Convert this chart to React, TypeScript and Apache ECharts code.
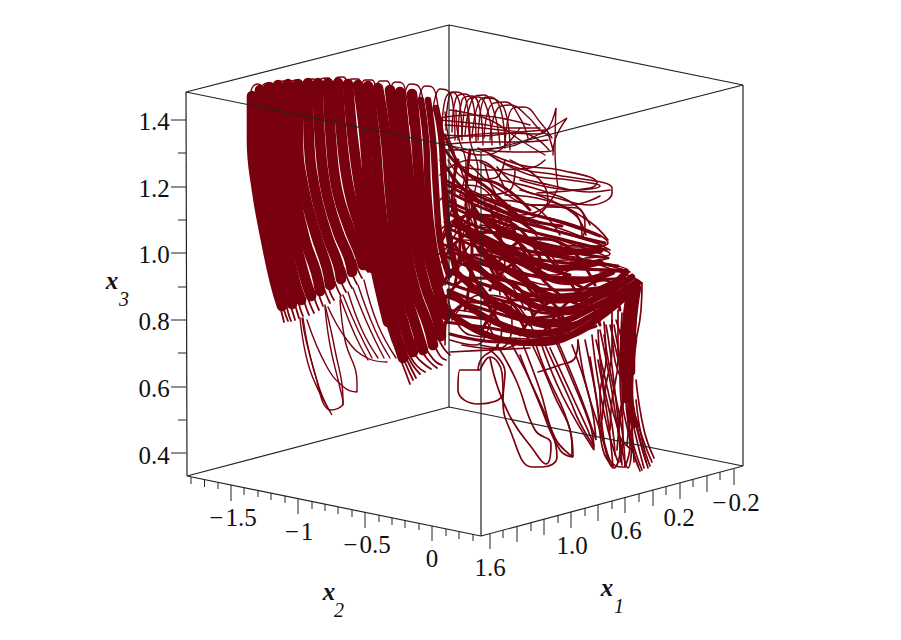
import React, { useEffect, useRef } from "react";
import * as echarts from "echarts";

const INK = "#78000f";
const BOX = "#222222";

// Box edges of the 3D frame
const boxEdges = [
  [[186, 92], [449, 25], [743, 85], [481, 152], [186, 92]],
  [[187, 476], [449, 407], [743, 466], [481, 536], [187, 476]],
  [[186, 92], [187, 476]],
  [[449, 25], [449, 407]],
  [[743, 85], [743, 466]],
  [[481, 152], [481, 536]],
];

// Ticks: [x0,y0,x1,y1]
const x3Ticks = [
  [171, 120, 186, 120], [178, 153, 186, 153], [171, 187, 186, 187], [178, 220, 186, 220], [171, 253, 186, 253],
  [178, 287, 186, 287], [171, 320, 186, 320], [178, 353, 186, 353], [171, 387, 186, 387], [178, 420, 186, 420], [171, 453, 186, 453],
];
const x2Ticks = [
  [191, 477, 191, 484], [204.5, 480, 204.5, 487], [218, 482, 218, 489], [231, 485, 231, 501], [244, 488, 244, 495],
  [258, 490, 258, 497], [271, 493, 271, 500], [285, 496, 285, 503], [298, 499, 298, 514], [312, 502, 312, 509],
  [325, 504, 325, 511], [338, 507, 338, 514], [352, 510, 352, 517], [365, 512, 365, 528], [379, 515, 379, 522],
  [392, 518, 392, 525], [405, 521, 405, 528], [419, 523, 419, 530], [432, 526, 432, 541], [446, 529, 446, 536],
  [459, 532, 459, 539], [473, 534, 473, 541],
];
const x1Ticks = [
  [490, 534, 490, 549], [503, 530, 503, 538], [517, 526, 517, 542], [531, 523, 531, 531], [544, 519, 544, 535],
  [558, 515, 558, 523], [571, 512, 571, 528], [585, 508, 585, 516], [598, 505, 598, 521], [612, 501, 612, 509],
  [625, 497, 625, 513], [639, 494, 639, 502], [653, 490, 653, 506], [666, 487, 666, 495], [680, 483, 680, 499],
  [693, 479, 693, 487], [707, 476, 707, 492], [720, 472, 720, 480], [734, 469, 734, 485],
];

// Tick labels: [text, x, y]
const x3Labels = [["1.4", 154, 121], ["1.2", 154, 188], ["1.0", 154, 254], ["0.8", 154, 321], ["0.6", 154, 388], ["0.4", 154, 455]];
const x2Labels = [["\u2212\u200a1.5", 233, 517], ["\u2212\u200a1", 299, 531], ["\u2212\u200a0.5", 367, 544], ["0", 432, 558]];
const x1Labels = [["1.6", 490, 567], ["1.0", 572, 545], ["0.6", 626, 530], ["0.2", 679, 517], ["\u2212\u200a0.2", 736, 502]];
const axisNames = [["x", "2", 329, 591, 339, 610], ["x", "1", 607, 587, 619, 606], ["x", "3", 112, 280, 124, 299]];

// Dense left fan, drawn as broad bands
const fanBands = [
  [252, 96, 252, 140, 257, 190, 266, 240, 275, 282, 282, 306],
  [260, 90, 260, 140, 266, 190, 275, 240, 285, 282, 292, 304],
  [269, 87, 269, 140, 275, 190, 285, 240, 295, 282, 301, 300],
  [278, 85, 278, 140, 284, 190, 295, 240, 305, 278, 311, 296],
  [288, 84, 288, 140, 294, 190, 305, 240, 316, 272, 320, 291],
  [298, 84, 298, 140, 304, 190, 316, 235, 327, 268, 330, 285],
  [308, 83, 309, 140, 315, 190, 327, 235, 338, 264, 341, 279],
  [318, 83, 320, 140, 326, 190, 338, 232, 349, 258, 352, 272],
  [328, 83, 331, 140, 337, 190, 349, 228, 360, 255, 363, 265],
  [338, 83, 342, 140, 349, 190, 360, 228, 369, 255, 372, 268],
  [348, 84, 353, 140, 360, 190, 369, 235, 378, 280, 388, 322],
  [358, 85, 364, 130, 369, 190, 375, 240, 384, 285, 397, 338, 403, 358],
  [368, 86, 375, 140, 379, 190, 385, 240, 395, 290, 407, 335, 413, 352],
  [378, 88, 386, 140, 390, 190, 395, 240, 405, 290, 417, 330, 423, 350],
  [390, 90, 396, 140, 400, 190, 405, 240, 415, 290, 428, 325, 433, 345],
  [400, 92, 405, 140, 410, 190, 415, 240, 425, 285, 436, 315, 441, 336],
  [412, 94, 416, 135, 420, 190, 425, 240, 435, 280, 446, 315],
];

// Tangled centre and right wing bands
const massBands = [
  [421, 100, 426, 140, 428, 190, 433, 240, 442, 282],
  [428, 100, 433, 140, 436, 190, 440, 240, 449, 275],
  [436, 108, 441, 135, 444, 180, 448, 230, 456, 270],
  [445, 310, 490, 336, 540, 343, 590, 324, 637, 286],
  [450, 292, 495, 322, 545, 333, 595, 314, 638, 283],
  [456, 272, 500, 306, 550, 322, 600, 304, 636, 282],
  [466, 256, 510, 292, 560, 310, 605, 294, 632, 277],
  [480, 250, 520, 278, 565, 298, 610, 285, 626, 272],
  [470, 235, 520, 262, 570, 282, 612, 272],
  [455, 222, 510, 250, 560, 268, 600, 262],
  [470, 212, 520, 238, 565, 252, 600, 250],
  [632, 290, 628, 340, 630, 380],
  [638, 288, 633, 330, 632, 372],
  [628, 300, 624, 350, 626, 400],
  [634, 340, 630, 390, 634, 425],
];

// Medium strands that knit the centre together
const knitStrands = [
  [445, 180, 500, 205, 560, 222, 600, 236],
  [445, 190, 500, 215, 560, 232, 605, 243],
  [445, 200, 505, 224, 565, 240, 606, 250],
  [445, 212, 500, 235, 560, 250, 608, 258],
  [445, 222, 505, 245, 565, 258, 618, 266],
  [445, 234, 505, 256, 565, 268, 622, 270],
  [445, 245, 500, 266, 570, 280, 630, 278],
  [445, 256, 500, 278, 565, 290, 625, 284],
  [445, 268, 500, 290, 560, 302, 620, 292],
  [445, 282, 500, 300, 560, 314, 616, 300],
  [445, 296, 500, 314, 555, 326, 610, 308],
  [445, 322, 490, 328, 550, 338, 600, 320],
  [450, 334, 500, 342, 560, 336, 596, 326],
  [442, 240, 470, 215, 510, 222, 540, 258],
  [442, 262, 475, 232, 515, 240, 545, 280],
  [442, 285, 475, 255, 510, 262, 540, 300],
  [442, 305, 470, 278, 510, 282, 535, 322],
  [442, 330, 470, 302, 505, 305, 528, 338],
  [482, 330, 512, 300, 545, 300, 570, 335],
  [490, 290, 520, 262, 555, 268, 585, 310],
  [500, 260, 530, 238, 565, 245, 595, 285],
  [520, 335, 545, 305, 580, 295, 600, 325],
  [540, 338, 570, 300, 605, 280, 620, 310],
  [560, 335, 590, 300, 622, 285, 630, 312],
  [445, 150, 470, 175, 500, 185, 530, 210],
  [445, 165, 470, 195, 505, 212, 535, 232],
  [445, 135, 462, 168, 490, 190, 525, 222],
  [470, 200, 495, 235, 530, 262, 570, 275],
  [460, 220, 485, 258, 520, 290, 560, 300],
  [455, 245, 480, 285, 510, 315, 550, 328],
  [448, 185, 480, 202, 520, 218, 562, 226],
  [448, 205, 485, 222, 530, 240, 575, 250],
  [448, 228, 485, 244, 530, 258, 585, 264],
  [448, 250, 490, 266, 535, 276, 590, 278],
  [448, 272, 490, 286, 535, 296, 590, 292],
  [448, 290, 490, 306, 535, 318, 585, 306],
  [448, 315, 490, 320, 535, 332, 580, 322],
  [455, 200, 462, 240, 480, 290, 505, 330],
  [470, 190, 480, 240, 500, 285, 530, 325],
  [490, 205, 505, 250, 530, 290, 560, 318],
  [510, 220, 530, 262, 560, 295, 590, 308],
  [535, 240, 560, 270, 590, 290, 612, 292],
  [458, 160, 452, 200, 460, 240, 455, 285],
  [470, 150, 466, 200, 472, 250, 465, 310],
];

// Fine looping strands
const topArcs = [
  [250, 100, 252, 88, 258, 84, 264, 92, 265, 120],
  [258, 100, 263, 85, 270, 83, 276, 90, 278, 120],
  [272, 105, 277, 83, 284, 81, 290, 90, 292, 120],
  [286, 105, 292, 81, 299, 80, 304, 90, 306, 120],
  [300, 105, 306, 80, 313, 79, 318, 90, 320, 120],
  [314, 105, 321, 79, 328, 78, 333, 90, 335, 120],
  [330, 105, 336, 78, 343, 77, 348, 88, 350, 120],
  [344, 105, 351, 79, 358, 79, 362, 90, 365, 120],
  [358, 105, 365, 80, 372, 80, 376, 90, 380, 120],
  [373, 105, 380, 81, 387, 81, 391, 92, 395, 125],
  [387, 105, 395, 82, 402, 83, 406, 95, 410, 125],
  [402, 110, 410, 84, 417, 85, 422, 95, 427, 130],
  [417, 110, 425, 86, 432, 87, 437, 100, 441, 135],
  [432, 118, 440, 89, 448, 91, 453, 105, 455, 140],
  [446, 130, 449, 97, 456, 92, 466, 100, 470, 140],
  [458, 140, 462, 100, 472, 96, 480, 110, 483, 145],
  [465, 135, 474, 97, 484, 95, 494, 112, 500, 145],
  [478, 140, 486, 98, 497, 100, 507, 118, 510, 150],
  [490, 140, 498, 108, 510, 105, 527, 116, 540, 130, 548, 135],
  [505, 145, 513, 108, 524, 107, 540, 122, 552, 138],
  [440, 140, 500, 133, 540, 134, 556, 108, 555, 150, 558, 188],
  [445, 150, 500, 148, 527, 140, 567, 118, 555, 140, 553, 155],
  [445, 125, 500, 130, 530, 135, 549, 150],
  [450, 110, 490, 120, 520, 140, 545, 155],
  [442, 130, 445, 100, 452, 92, 460, 105, 462, 140],
  [452, 132, 456, 98, 465, 94, 474, 108, 476, 142],
  [462, 135, 468, 100, 478, 97, 488, 112, 492, 145],
  [472, 138, 480, 100, 490, 97, 502, 115, 505, 148],
  [484, 138, 492, 104, 505, 102, 520, 118, 528, 138],
  [440, 120, 480, 124, 510, 128, 540, 128],
  [440, 135, 480, 136, 520, 132, 545, 130],
  [440, 145, 485, 142, 520, 142, 548, 140],
  [440, 118, 470, 115, 500, 118, 530, 125],
  [445, 142, 480, 155, 500, 150, 520, 128],
  [445, 112, 448, 135, 455, 160, 452, 190],
  [456, 110, 458, 135, 466, 165, 460, 195],
  [468, 112, 470, 140, 478, 170, 472, 200],
];

const wingStrands = [
  [480, 150, 520, 152, 553, 150, 548, 133],
  [478, 148, 520, 165, 560, 170, 597, 183, 590, 188, 537, 193],
  [490, 155, 530, 175, 570, 180, 600, 186, 575, 190, 520, 180],
  [497, 160, 525, 170, 557, 175, 612, 188, 612, 193, 590, 205, 553, 197, 523, 190, 497, 167],
  [480, 162, 510, 175, 550, 185, 590, 192, 610, 190],
  [470, 165, 500, 190, 535, 205, 570, 205, 600, 196],
  [485, 165, 500, 200, 530, 218, 557, 190],
  [510, 160, 540, 180, 548, 200, 520, 215, 490, 190],
  [547, 207, 577, 208, 585, 227, 583, 237],
  [530, 205, 565, 208, 581, 225, 582, 238],
  [470, 190, 520, 210, 580, 227, 608, 243, 590, 246, 560, 245],
  [460, 195, 510, 215, 570, 235, 604, 246, 570, 247],
  [455, 205, 505, 225, 565, 240, 610, 254, 585, 258],
  [480, 225, 530, 232, 590, 250, 607, 258, 570, 262],
  [490, 245, 540, 252, 600, 262, 628, 270, 600, 272],
  [500, 255, 550, 255, 610, 266, 630, 272],
  [520, 265, 570, 260, 620, 272, 642, 283],
  [452, 240, 480, 215, 520, 222, 540, 240],
  [455, 230, 490, 200, 530, 205, 560, 235],
  [460, 260, 490, 232, 530, 238, 558, 265],
  [450, 175, 480, 195, 510, 190, 515, 170],
  [448, 160, 470, 180, 495, 178, 505, 160],
  [448, 195, 470, 225, 500, 228, 510, 205],
  [460, 165, 470, 190, 495, 215, 520, 235, 550, 240],
  [450, 250, 500, 270, 555, 275, 580, 262],
  [453, 165, 490, 170, 530, 168, 545, 160],
  [465, 205, 482, 240, 510, 272, 545, 285],
  [440, 175, 470, 160, 490, 165, 505, 190],
  [440, 200, 465, 185, 490, 195, 500, 230],
  [440, 230, 470, 215, 500, 235, 505, 270],
  [438, 255, 465, 240, 490, 258, 500, 295],
  [445, 285, 470, 262, 500, 272, 525, 310],
  [452, 320, 480, 295, 510, 300, 535, 335],
  [445, 345, 450, 310, 480, 315, 500, 340, 540, 345],
  [448, 300, 470, 335, 510, 338, 560, 340, 590, 328],
  [440, 160, 455, 190, 450, 215, 440, 240],
  [465, 190, 470, 215, 462, 240, 470, 270],
  [450, 340, 475, 345, 490, 325, 495, 300],
  [480, 345, 500, 348, 512, 325, 510, 290],
  [500, 180, 540, 190, 575, 205, 590, 225],
  [505, 195, 545, 200, 575, 215, 586, 235],
  [520, 190, 550, 200, 590, 222, 608, 240],
  [500, 210, 550, 225, 590, 240, 610, 250],
];

const dropStrands = [
  [450, 352, 490, 350, 530, 348],
  [462, 345, 500, 349, 515, 345, 520, 340],
  [480, 370, 460, 370, 458, 390, 478, 404, 503, 393, 502, 373, 490, 357, 480, 370],
  [478, 370, 482, 358, 498, 345, 502, 325],
  [490, 350, 505, 372, 503, 400, 510, 430, 532, 467, 542, 467, 557, 457, 552, 432, 525, 370, 512, 345],
  [497, 345, 516, 380, 535, 430, 551, 444, 546, 464, 532, 448, 512, 420, 498, 388, 490, 358],
  [522, 342, 540, 390, 555, 438, 573, 457, 570, 430, 545, 370, 535, 342],
  [530, 340, 552, 390, 572, 447, 572, 457, 560, 450, 540, 405, 520, 355],
  [540, 340, 562, 395, 594, 450, 592, 440, 574, 400, 550, 348],
  [545, 345, 570, 400, 580, 423, 594, 447, 590, 425, 570, 375, 556, 342],
  [558, 342, 580, 395, 596, 440, 590, 400, 572, 345],
  [538, 372, 560, 365, 575, 358, 578, 340],
  [578, 340, 586, 385, 600, 430, 614, 468, 620, 450, 610, 400, 596, 340],
  [585, 340, 595, 390, 605, 445, 616, 466, 625, 467, 622, 430, 610, 370, 604, 335],
  [590, 357, 597, 403, 603, 450, 613, 467, 608, 420, 598, 360],
  [600, 330, 610, 380, 620, 440, 628, 468, 632, 430, 622, 370, 614, 325],
  [610, 325, 625, 395, 630, 445, 625, 467],
  [622, 313, 620, 375, 623, 437, 620, 462],
  [625, 310, 628, 370, 620, 420, 617, 450],
  [630, 300, 628, 380, 640, 430, 652, 462],
  [633, 298, 630, 370, 636, 420, 648, 468],
  [637, 290, 634, 350, 628, 420, 640, 471],
  [639, 286, 632, 340, 626, 400, 642, 470],
  [636, 380, 644, 430, 654, 458],
  [628, 372, 635, 420, 646, 462],
  [620, 330, 626, 375, 618, 430, 632, 450],
  [616, 320, 630, 395, 627, 445],
  [642, 283, 641, 310, 635, 345, 628, 380],
  [612, 320, 614, 355, 628, 400, 634, 462],
  [606, 325, 610, 350, 617, 410, 622, 465],
  [592, 335, 598, 380, 608, 430, 618, 462],
  [598, 330, 602, 375, 612, 425, 615, 455],
  [618, 310, 618, 360, 612, 400, 610, 430],
  [612, 312, 612, 350, 606, 385, 602, 420],
  [604, 322, 606, 360, 600, 395, 604, 440],
  [624, 340, 622, 390, 630, 440, 638, 466],
  [636, 400, 642, 440, 650, 466],
  [630, 410, 638, 445, 644, 468],
];

const lowerLeftStrands = [
  [300, 318, 310, 370, 332, 415, 320, 390, 306, 340, 302, 318],
  [303, 318, 314, 370, 331, 410, 343, 403, 340, 388, 330, 345, 325, 307],
  [307, 320, 327, 367, 345, 388, 357, 392, 357, 383, 345, 340, 340, 300],
  [325, 305, 335, 350, 343, 400, 343, 405],
  [328, 307, 347, 340, 367, 358, 387, 362],
  [340, 297, 355, 335, 368, 360],
  [343, 295, 358, 330, 372, 358],
  [348, 292, 362, 330, 378, 358],
  [353, 288, 368, 325, 384, 358],
  [358, 285, 375, 330, 390, 358],
  [364, 280, 378, 325, 396, 358],
];

// Fine ends that fray out of the bands at their lower edge
const fringeStrands = [
  [277, 295, 281, 310, 284, 322],
  [280, 295, 284, 310, 288, 321],
  [285, 298, 288, 312, 291, 321],
  [288, 298, 292, 310, 295, 320],
  [293, 296, 296, 308, 299, 318],
  [297, 296, 300, 308, 303, 316],
  [302, 292, 305, 304, 309, 315],
  [306, 292, 310, 304, 314, 313],
  [312, 288, 315, 300, 319, 310],
  [316, 286, 320, 298, 323, 306],
  [322, 282, 326, 294, 330, 303],
  [327, 280, 330, 292, 334, 300],
  [333, 276, 337, 288, 341, 296],
  [338, 274, 342, 284, 346, 292],
  [344, 268, 348, 280, 352, 288],
  [349, 266, 353, 276, 357, 284],
  [355, 260, 358, 270, 362, 278],
  [360, 256, 364, 266, 368, 272],
  [385, 315, 392, 340, 400, 358, 410, 384],
  [388, 318, 396, 340, 404, 360, 413, 380],
  [392, 325, 400, 345, 408, 362, 416, 378],
  [396, 330, 404, 348, 412, 364, 420, 374],
  [402, 340, 410, 356, 417, 366, 425, 372],
  [408, 342, 416, 356, 424, 364, 431, 369],
  [414, 340, 422, 352, 430, 362, 437, 368],
  [420, 340, 428, 352, 436, 362, 442, 365],
  [428, 335, 435, 347, 441, 357, 446, 360],
  [434, 330, 440, 342, 445, 350, 450, 355],
];

function toSeries(strands: number[][], width: number, z: number) {
  return strands.map((s) => {
    const pts: number[][] = [];
    for (let i = 0; i < s.length; i += 2) pts.push([s[i], s[i + 1]]);
    return {
      type: "line", data: pts, smooth: 0.45, symbol: "none", silent: true, z,
      lineStyle: { color: INK, width, cap: "round" },
    };
  });
}

function straight(pts: number[][], width: number) {
  return {
    type: "line", data: pts, symbol: "none", silent: true, z: 6,
    lineStyle: { color: BOX, width },
  };
}

const serif = "'Liberation Serif', 'Times New Roman', serif";

export default function App() {
  const ref = useRef<HTMLDivElement>(null);
  useEffect(() => {
    const chart = echarts.init(ref.current!, undefined, { renderer: "svg" });
    const texts: any[] = [];
    for (const [t, x, y] of [...x3Labels, ...x2Labels, ...x1Labels] as any[]) {
      texts.push({
        type: "text", x, y, z: 10,
        style: { text: t, font: `25px ${serif}`, fill: "#111", textAlign: "center", textVerticalAlign: "middle" },
      });
    }
    for (const [a, b, x, y, sx, sy] of axisNames as any[]) {
      texts.push({
        type: "text", x, y, z: 10,
        style: { text: a, font: `italic bold 25px ${serif}`, fill: "#111", textAlign: "center", textVerticalAlign: "middle" },
      });
      texts.push({
        type: "text", x: sx, y: sy, z: 10,
        style: { text: b, font: `italic 20px ${serif}`, fill: "#111", textAlign: "center", textVerticalAlign: "middle" },
      });
    }
    chart.setOption({
      animation: false,
      grid: { left: 0, right: 0, top: 0, bottom: 0 },
      xAxis: { type: "value", min: 0, max: 901, show: false },
      yAxis: { type: "value", min: 0, max: 640, inverse: true, show: false },
      graphic: texts,
      series: [
        ...toSeries(fanBands, 10.6, 2),
        ...toSeries(massBands, 6.5, 2),
        ...toSeries(knitStrands, 3, 2),
        ...toSeries(topArcs, 1.4, 3),
        ...toSeries(wingStrands, 1.6, 3),
        ...toSeries(dropStrands, 1.7, 3),
        ...toSeries(lowerLeftStrands, 1.4, 3),
        ...toSeries(fringeStrands, 1.8, 3),
        ...boxEdges.map((e) => straight(e, 1.2)),
        ...[...x3Ticks, ...x2Ticks, ...x1Ticks].map((t) => straight([[t[0], t[1]], [t[2], t[3]]], 1)),
      ],
    });
    return () => chart.dispose();
  }, []);
  return <div ref={ref} style={{ position: "absolute", left: 0, top: 0, width: 901, height: 640 }} />;
}
